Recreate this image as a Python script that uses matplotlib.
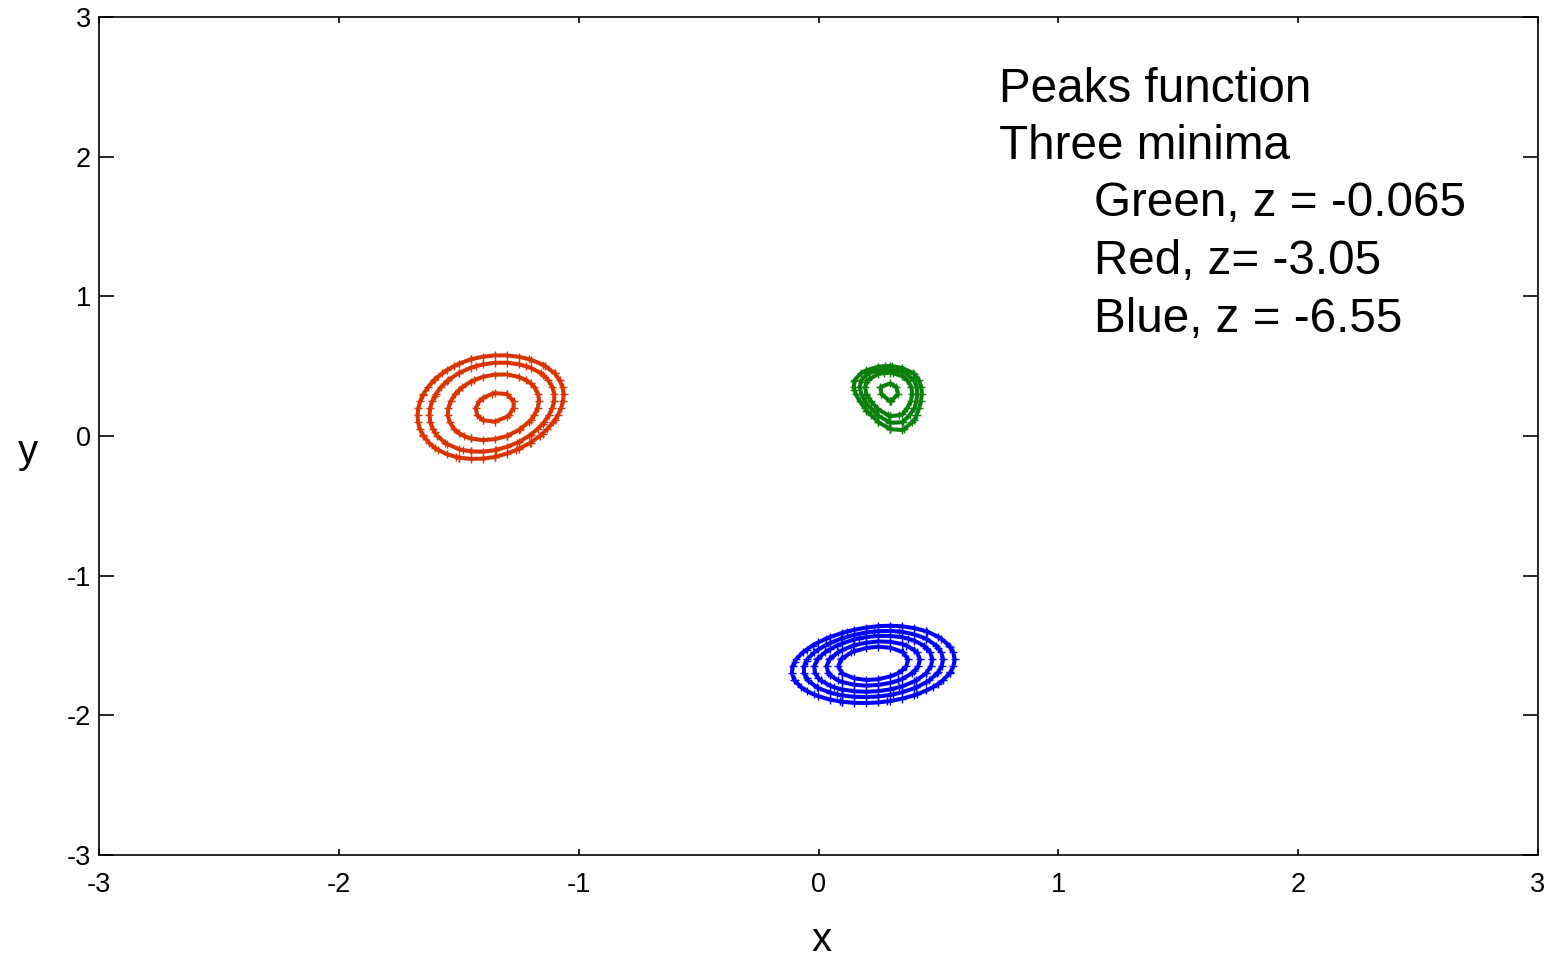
import numpy as np
import matplotlib.pyplot as plt

plt.rcParams['font.family'] = ['Liberation Sans', 'DejaVu Sans']

# local minima of the peaks surface and the contour levels drawn round each
min_names = ['Green', 'Red', 'Blue']
min_z = [-0.065, -3.05, -6.55]
green_levels = [-0.05, 0.01, 0.045, 0.085]
red_levels = [-3.0, -2.8, -2.6, -2.45]
blue_levels = [-6.35, -6.2, -6.0, -5.8, -5.55]
colors = {'Green': '#0a800a', 'Red': '#d93300', 'Blue': '#0000ff'}

# window kept round each minimum so only its own rings are drawn
windows = {'Green': (0.0, 0.7, -0.05, 0.7),
           'Red': (-2.0, -0.8, -0.5, 0.9),
           'Blue': (-0.3, 0.8, -2.1, -1.2)}


def peaks(x, y):
    return (3 * (1 - x)**2 * np.exp(-x**2 - (y + 1)**2)
            - 10 * (x / 5 - x**3 - y**5) * np.exp(-x**2 - y**2)
            - np.exp(-(x + 1)**2 - y**2) / 3)


g = np.arange(-3, 3.0001, 0.05)
X, Y = np.meshgrid(g, g)
Z = peaks(X, Y)

fig = plt.figure(figsize=(15.52, 9.6), dpi=100)
ax = fig.add_axes([99/1552, 1 - 855/960, (1538 - 99)/1552, (855 - 17)/960])

for name, levels in zip(min_names, [green_levels, red_levels, blue_levels]):
    x0, x1, y0, y1 = windows[name]
    m = (X >= x0) & (X <= x1) & (Y >= y0) & (Y <= y1)
    Zm = np.ma.masked_where(~m, Z)
    cs = ax.contour(X, Y, Zm, levels=levels, colors=colors[name],
                    linewidths=2.9, linestyles='solid')
    # small cross at every vertex of the contour polylines
    for segs in cs.allsegs:
        for s in segs:
            ax.plot(s[:, 0], s[:, 1], ls='none', marker='+', ms=5.5, mew=1.0,
                    color=colors[name])

ax.set_xlim(-3, 3)
ax.set_ylim(-3, 3)
ax.set_xticks(np.arange(-3, 4))
ax.set_yticks(np.arange(-3, 4))
ax.set_xticklabels([str(v) for v in range(-3, 4)])
ax.set_yticklabels([str(v) for v in range(-3, 4)])
ax.tick_params(axis='x', direction='in', length=4, width=1.2, top=True,
               labelsize=19.5, pad=12)
ax.tick_params(axis='y', direction='in', length=11, width=1.2, right=True,
               labelsize=19.5, pad=6)
for sp in ax.spines.values():
    sp.set_linewidth(1.2)

fig.text(822/1552, 1 - 940/960, 'x', fontsize=29, ha='center', va='center')
fig.text(28/1552, 1 - 452/960, 'y', fontsize=29, ha='center', va='center')

# annotation block, baselines given as pixel rows from the top
lines = [('Peaks function', 999, 102), ('Three minima', 999, 159),
         ('Green, z = -0.065', 1094, 216), ('Red, z= -3.05', 1094, 274),
         ('Blue, z = -6.55', 1094, 332)]
for txt, lx, ly in lines:
    fig.text(lx/1552, 1 - ly/960, txt, fontsize=34.3, ha='left', va='baseline')

fig.savefig('out.png')
